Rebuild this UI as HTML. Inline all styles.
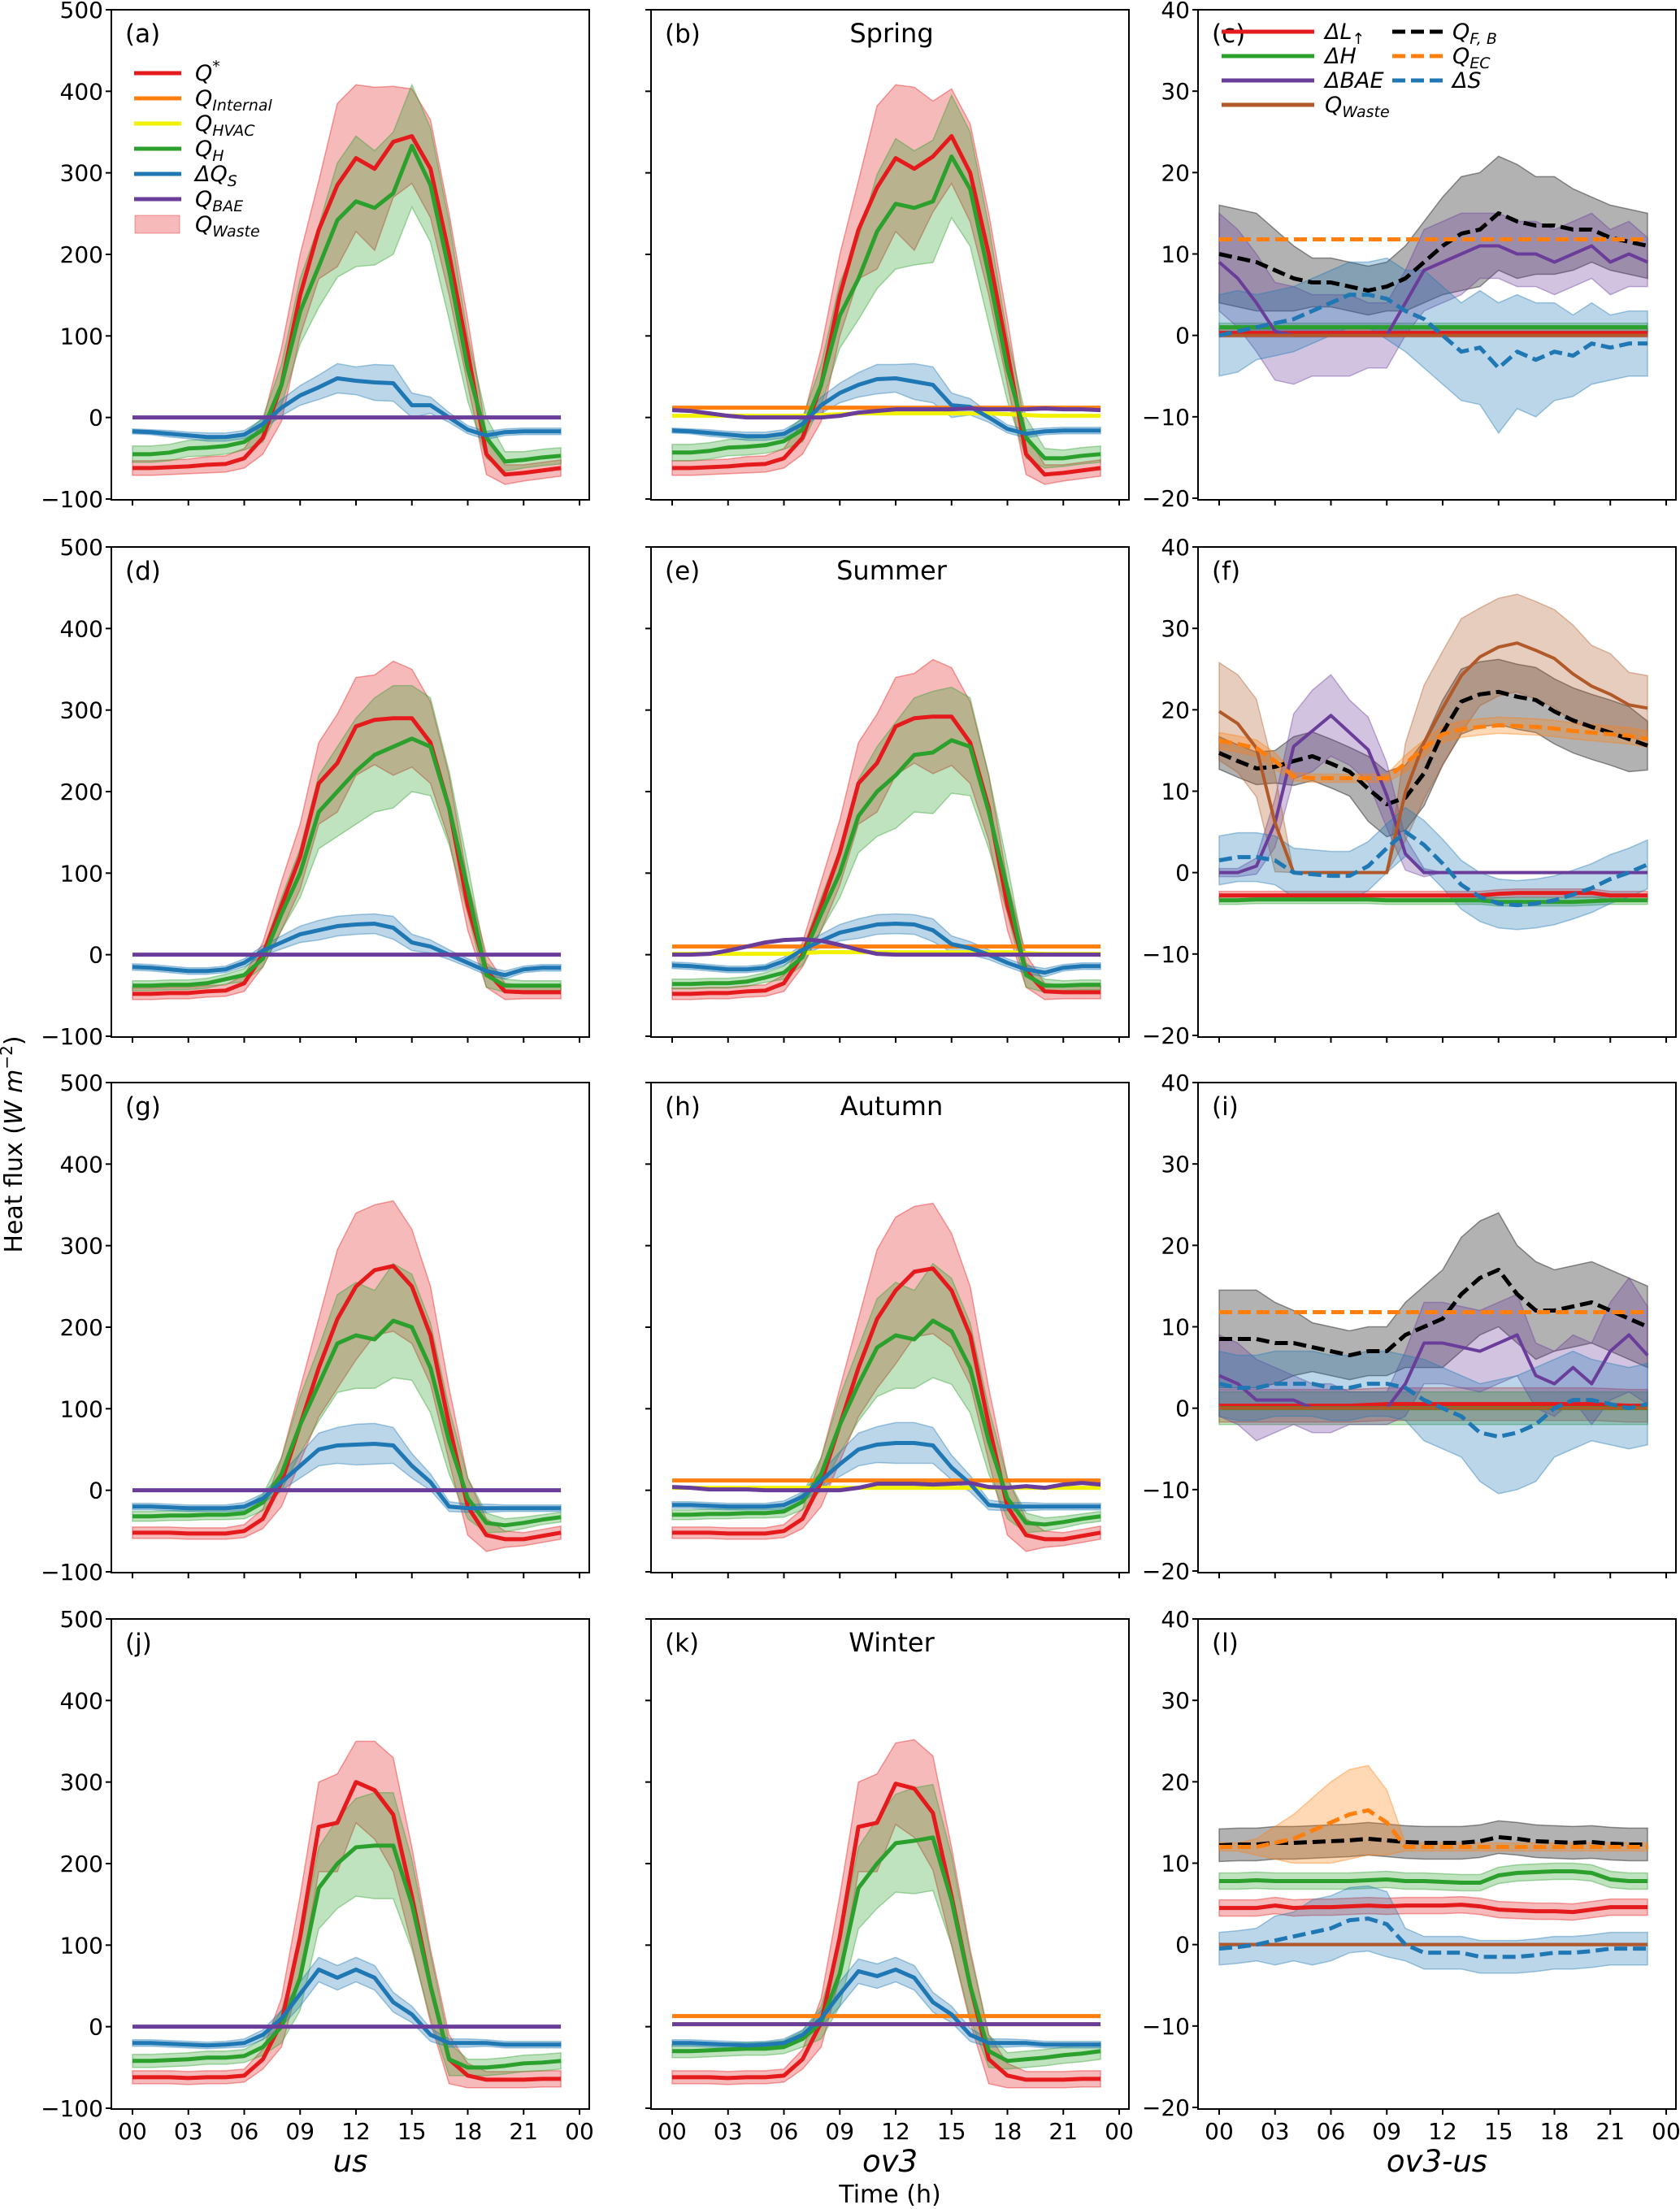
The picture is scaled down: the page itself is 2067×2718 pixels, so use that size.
<!DOCTYPE html>
<html><head><meta charset="utf-8"><style>
body{margin:0;background:#fff}
svg{display:block;font-family:"DejaVu Sans","Liberation Sans",sans-serif}
</style></head><body>
<svg id="fig" width="2067" height="2718" viewBox="0 0 2067 2718" xmlns="http://www.w3.org/2000/svg"></svg>
<script>
// ---------- data (hourly 00..23) ----------
const hours=[0,1,2,3,4,5,6,7,8,9,10,11,12,13,14,15,16,17,18,19,20,21,22,23];
const xTicks=["00","03","06","09","12","15","18","21","00"];
const yTicksMain=[-100,0,100,200,300,400,500];
const yTicksDiff=[-20,-10,0,10,20,30,40];
const seasons=["Spring","Summer","Autumn","Winter"];
const panelLetters=[["(a)","(b)","(c)"],["(d)","(e)","(f)"],["(g)","(h)","(i)"],["(j)","(k)","(l)"]];
const colLabels=["us","ov3","ov3-us"];

// Spring
const spQstar=[-62,-62,-61,-60,-58,-57,-50,-25,40,150,230,285,318,305,338,345,305,200,80,-45,-70,-68,-65,-62];
const spQstarBand=[9,9,9,9,10,10,12,20,45,50,60,100,90,100,68,58,60,50,40,25,12,10,10,10];
const spQH=[-45,-45,-43,-38,-37,-35,-30,-15,40,130,185,242,265,257,275,333,285,180,60,-25,-54,-52,-49,-47];
const spQHBand=[10,10,10,10,10,10,10,15,25,40,50,70,80,70,75,75,70,60,40,25,12,10,10,10];
const spDQs=[-17,-18,-20,-22,-24,-24,-21,-8,12,27,37,48,45,43,42,15,15,0,-15,-22,-18,-17,-17,-17];
const spDQsBand=[3,3,4,4,5,5,5,6,10,12,15,18,17,22,22,15,10,6,5,5,4,4,4,4];
const spQstarOv=[-62,-62,-61,-60,-58,-57,-50,-25,40,150,230,282,318,305,320,345,300,200,80,-45,-70,-68,-65,-62];
const spQHOv=[-43,-43,-41,-37,-36,-34,-29,-15,40,125,170,228,262,257,265,320,280,175,60,-25,-50,-50,-47,-45];
const spDQsOv=[-16,-17,-19,-21,-23,-23,-20,-8,15,30,40,47,48,44,40,15,13,0,-14,-20,-17,-16,-16,-16];
const spQint=[12,12,12,12,12,12,12,12,12,12,12,12,12,12,12,12,12,12,12,12,12,12,12,12];
const spQhvac=[2,2,2,2,2,2,2,2,3,4,5,5,5,5,5,5,5,5,4,3,2,2,2,2];
const spQbae=[9,8,5,2,0,0,0,0,0,2,6,8,10,10,10,10,11,10,10,10,11,10,10,9];

// Summer
const suQstar=[-48,-48,-47,-47,-45,-44,-35,0,60,120,210,235,280,288,290,290,260,180,60,-20,-45,-46,-46,-46];
const suQstarBand=[7,7,7,7,7,7,10,15,30,40,50,60,60,55,70,60,50,40,30,20,10,8,8,8];
const suQH=[-38,-38,-37,-37,-35,-30,-25,-5,50,100,175,200,225,245,255,265,255,180,80,-25,-38,-38,-38,-38];
const suQHBand=[6,6,6,6,6,6,8,10,20,30,45,55,65,70,75,65,60,45,30,15,8,6,6,6];
const suDQs=[-15,-16,-18,-20,-20,-18,-10,5,15,25,30,35,37,38,33,15,10,0,-10,-20,-25,-18,-16,-16];
const suDQsBand=[4,4,4,4,4,4,5,6,8,10,12,12,12,12,14,10,8,6,5,5,5,4,4,4];
const suQstarOv=[-48,-48,-47,-47,-45,-44,-35,0,60,125,210,235,280,290,292,292,260,180,60,-20,-45,-46,-46,-46];
const suQHOv=[-36,-36,-35,-35,-33,-28,-22,-3,50,100,170,200,220,245,248,263,255,175,80,-25,-38,-38,-37,-37];
const suDQsOv=[-13,-14,-16,-18,-18,-16,-8,6,17,27,32,37,38,37,30,13,8,0,-10,-18,-22,-16,-14,-14];
const suQint=[10,10,10,10,10,10,10,10,10,10,10,10,10,10,10,10,10,10,10,10,10,10,10,10];
const suQhvac=[1,1,1,1,1,1,1,2,3,3,3,3,3,3,3,3,3,3,3,2,1,1,1,1];
const suQbae=[0,0,1,5,10,15,18,19,17,12,6,1,0,0,0,0,0,0,0,0,0,0,0,0];

// Autumn
const auQstar=[-52,-52,-52,-53,-53,-53,-50,-35,10,80,150,210,250,270,275,250,190,80,-20,-55,-60,-60,-56,-52];
const auQstarBand=[7,7,7,7,7,7,8,12,30,45,60,85,90,80,80,70,60,45,35,20,10,8,8,8];
const auQH=[-32,-32,-31,-31,-30,-30,-28,-15,20,80,130,180,190,185,208,200,150,60,-10,-40,-43,-40,-36,-33];
const auQHBand=[6,6,6,6,6,6,7,10,20,35,45,60,65,60,70,65,55,40,25,12,8,7,6,6];
const auDQs=[-20,-20,-21,-22,-22,-22,-20,-10,10,30,50,55,56,57,55,30,10,-20,-22,-22,-22,-22,-22,-22];
const auDQsBand=[4,4,4,4,4,4,5,6,10,15,20,22,25,25,22,15,10,6,5,5,4,4,4,4];
const auQstarOv=[-52,-52,-52,-53,-53,-53,-50,-35,10,80,150,210,245,268,272,245,190,80,-20,-55,-60,-60,-56,-52];
const auQHOv=[-30,-30,-29,-29,-28,-28,-26,-14,20,80,130,175,190,185,208,195,150,60,-10,-40,-42,-39,-35,-32];
const auDQsOv=[-18,-18,-19,-20,-20,-20,-18,-8,12,32,50,56,58,58,55,28,8,-18,-20,-20,-20,-20,-20,-20];
const auQint=[12,12,12,12,12,12,12,12,12,12,12,12,12,12,12,12,12,12,12,12,12,12,12,12];
const auQhvac=[3,3,3,3,3,3,3,3,3,3,3,3,3,3,3,3,3,3,3,3,3,3,3,3];
const auQbae=[4,3,1,1,1,0,0,0,0,0,3,8,8,8,7,8,9,4,3,5,3,7,9,7];

// Winter
const wiQstar=[-62,-62,-62,-63,-62,-62,-60,-40,5,110,245,250,300,290,260,160,50,-40,-60,-65,-65,-65,-64,-64];
const wiQstarBand=[8,8,8,8,8,8,8,12,30,50,55,60,50,60,70,60,45,30,15,10,10,10,10,10];
const wiQH=[-42,-42,-41,-40,-38,-38,-36,-25,0,60,170,200,220,222,222,150,50,-40,-50,-50,-48,-45,-44,-42];
const wiQHBand=[8,8,8,8,8,8,8,10,20,40,50,55,60,65,65,55,40,20,10,10,10,10,10,10];
const wiDQs=[-20,-20,-21,-22,-23,-22,-20,-10,10,40,70,60,70,60,30,15,-10,-20,-20,-20,-22,-22,-22,-22];
const wiDQsBand=[4,4,4,4,4,4,5,6,10,15,15,15,15,15,12,10,8,5,5,4,4,4,4,4];
const wiQstarOv=[-62,-62,-62,-63,-62,-62,-60,-40,5,110,245,250,298,292,262,160,50,-40,-60,-65,-65,-65,-64,-64];
const wiQHOv=[-30,-30,-29,-28,-27,-27,-25,-15,5,65,170,200,225,228,232,155,50,-30,-42,-40,-38,-35,-33,-30];
const wiDQsOv=[-20,-20,-21,-22,-23,-22,-20,-10,10,40,68,62,70,60,30,15,-10,-20,-20,-20,-22,-22,-22,-22];
const wiQint=[13,13,13,13,13,13,13,13,13,13,13,13,13,13,13,13,13,13,13,13,13,13,13,13];
const wiQhvac=[3,3,3,3,3,3,3,3,3,3,3,3,3,3,3,3,3,3,3,3,3,3,3,3];
const wiQbae=[3,3,3,3,3,3,3,3,3,3,3,3,3,3,3,3,3,3,3,3,3,3,3,3];

// Differences (ov3-us)
const cDL=[0.3,0.3,0.3,0.3,0.3,0.3,0.3,0.3,0.3,0.3,0.3,0.3,0.3,0.3,0.3,0.3,0.3,0.3,0.3,0.3,0.3,0.3,0.3,0.3];
const cDH=[1,1,1,1,1,1,1,1,1,1,1,1,1,1,1,1,1,1,1,1,1,1,1,1];
const cBAE=[9,7,4,0.5,0,0,0,0,0,0,4,8,9,10,11,11,10,10,9,10,11,9,10,9];
const cWaste=[0,0,0,0,0,0,0,0,0,0,0,0,0,0,0,0,0,0,0,0,0,0,0,0];
const cQFB=[10,9.5,9,8,7,6.5,6.5,6,5.5,6,7,9,11,12.5,13,15,14,13.5,13.5,13,13,12,11.5,11];
const cQEC=[11.8,11.8,11.8,11.8,11.8,11.8,11.8,11.8,11.8,11.8,11.8,11.8,11.8,11.8,11.8,11.8,11.8,11.8,11.8,11.8,11.8,11.8,11.8,11.8];
const cDS=[0,0.5,1,1.5,2,3,4,5,5,4.5,3,2,0,-2,-1.5,-4,-2,-3,-2,-2.5,-1,-1.5,-1,-1];

const fDL=[-2.8,-2.8,-2.8,-2.8,-2.8,-2.8,-2.8,-2.8,-2.8,-2.8,-2.8,-2.8,-2.8,-2.8,-2.8,-2.6,-2.5,-2.5,-2.5,-2.5,-2.5,-2.8,-2.8,-2.8];
const fDH=[-3.4,-3.4,-3.3,-3.3,-3.3,-3.3,-3.3,-3.3,-3.3,-3.4,-3.4,-3.4,-3.4,-3.4,-3.4,-3.6,-3.6,-3.6,-3.6,-3.6,-3.5,-3.4,-3.4,-3.4];
const fBAE=[0,0,0.8,6.1,15.5,17.4,19.3,17.2,15.1,9.5,2.3,0,0,0,0,0,0,0,0,0,0,0,0,0];
const fWaste=[19.8,18.3,15.3,6.1,0,0,0,0,0,0,9.9,16,20.2,24.2,26.5,27.7,28.2,27.3,26.3,24.4,22.9,21.9,20.6,20.2];
const fQFB=[14.7,13.7,12.8,13,13.7,14.3,13.4,12.4,10.3,8.4,9.2,12.2,17.2,21,21.9,22.2,21.6,21.2,19.8,18.7,17.9,17.2,16.4,15.6];
const fQEC=[16.2,15.8,15.3,13.7,11.8,11.6,11.6,11.6,11.6,11.6,13.4,15.3,17,17.6,17.9,18.1,18,17.9,17.7,17.4,17.2,17,16.8,16.4];
const fDS=[1.5,1.9,1.9,1.5,0,-0.2,-0.4,-0.4,0.8,3,5,3.4,1.1,-1.5,-3,-3.8,-4,-3.8,-3.4,-2.7,-1.9,-0.8,0,1];

const iDL=[0.3,0.3,0.3,0.3,0.3,0.3,0.3,0.3,0.4,0.5,0.5,0.5,0.5,0.5,0.5,0.5,0.5,0.5,0.5,0.5,0.5,0.4,0.3,0.3];
const iDH=[0,0,0,0,0,0,0,0,0,0,0,0,0,0,0,0,0,0,0,0,0,0,0,0];
const iBAE=[4,3,1,1,1,0,0,0,0,0,3,8,8,7.5,7,8,9,4,3,5,3,7,9,6.5];
const iWaste=[0,0,0,0,0,0,0,0,0,0,0,0,0,0,0,0,0,0,0,0,0,0,0,0];
const iQFB=[8.5,8.5,8.5,8,8,7.5,7,6.5,7,7,9,10,11,14,16,17,14,12,12,12.5,13,12,11,10];
const iQEC=[11.8,11.8,11.8,11.8,11.8,11.8,11.8,11.8,11.8,11.8,11.8,11.8,11.8,11.8,11.8,11.8,11.8,11.8,11.8,11.8,11.8,11.8,11.8,11.8];
const iDS=[3,2.5,2.5,3,3,3,2.5,2.5,3,3,2.5,1,0,-1,-3,-3.5,-3,-2,0,1,1,0.5,0,0.5];

const lDL=[4.5,4.5,4.5,4.8,4.5,4.6,4.6,4.7,4.8,4.7,4.8,4.8,4.8,4.9,4.7,4.3,4.2,4.1,4.1,4,4.3,4.6,4.6,4.6];
const lDH=[7.8,7.8,7.9,7.8,7.8,7.8,7.8,7.8,7.9,8,7.8,7.8,7.7,7.6,7.6,8.5,8.8,8.9,9,9,8.8,8,7.8,7.8];
const lBAE=[0,0,0,0,0,0,0,0,0,0,0,0,0,0,0,0,0,0,0,0,0,0,0,0];
const lWaste=[0,0,0,0,0,0,0,0,0,0,0,0,0,0,0,0,0,0,0,0,0,0,0,0];
const lQFB=[12.2,12.3,12.3,12.5,12.5,12.6,12.7,12.8,13,12.8,12.6,12.5,12.5,12.5,12.7,13.2,13,12.7,12.6,12.5,12.6,12.4,12.3,12.3];
const lQEC=[12,12,12,12.5,13,14,15,16,16.5,15,12,12,12,12,12,12,12,12,12,12,12,12,12,12];
const lDS=[-0.5,-0.3,0,0.5,1,1.5,2,3,3.2,2.5,0,-1,-1,-1,-1.5,-1.5,-1.5,-1.3,-1,-1,-0.8,-0.5,-0.5,-0.5];

// ---------- drawing ----------
const C={red:"#e41a1c",orange:"#ff7f0e",yellow:"#f2f200",green:"#2ca02c",blue:"#1f77b4",purple:"#6a3d9a",brown:"#b15928",black:"#000"};
const NS="http://www.w3.org/2000/svg";
const svg=document.getElementById("fig");
function mk(tag,attrs,parent){const e=document.createElementNS(NS,tag);for(const k in attrs)e.setAttribute(k,attrs[k]);(parent||svg).appendChild(e);return e;}
const LEFT=[137,801,1474], TOP=[12,673,1332,1992], W=588, H=603;
function xs(col,h){return LEFT[col]+26+h*(550/24);}

function drawPanel(row,col,cfg){
  const g=mk("g",{});
  
  
  const L=LEFT[col],T=TOP[row];
  const [y0,y1]=cfg.ylim;
  const ys=v=>T+H-(v-y0)/(y1-y0)*H;
  const clip=mk("clipPath",{id:"cp"+row+col},g);mk("rect",{x:L,y:T,width:W,height:H},clip);
  const pg=mk("g",{"clip-path":"url(#cp"+row+col+")"},g);
  cfg.series.forEach(s=>{
    if(!s.band)return;
    const up=hours.map((h,i)=>xs(col,h)+","+ys(s.v[i]+s.band[i]));
    const lo=hours.map((h,i)=>xs(col,h)+","+ys(s.v[i]-s.band[i])).reverse();
    const p=mk("polygon",{points:up.concat(lo).join(" "),fill:s.c,"fill-opacity":0.3,stroke:s.c,"stroke-opacity":0.4,"stroke-width":1.5},pg);
    
    
  });
  cfg.series.forEach(s=>{
    const pts=hours.map((h,i)=>xs(col,h)+","+ys(s.v[i])).join(" ");
    const a={points:pts,fill:"none",stroke:s.c,"stroke-width":s.w||5,"stroke-linejoin":"round"};
    if(s.d)a["stroke-dasharray"]="16,7";
    const l=mk("polyline",a,pg);
    
    
  });
  const fr=mk("rect",{x:L,y:T,width:W,height:H,fill:"none",stroke:"#000","stroke-width":2},g);
  
  
  cfg.yticks.forEach(v=>{
    const y=ys(v);
    mk("line",{x1:L-7,x2:L,y1:y,y2:y,stroke:"#000","stroke-width":2},g);
    if(col!==1){const t=mk("text",{x:L-10,y:y+10,"text-anchor":"end","font-size":28},g);t.textContent=(v<0?"\u2212"+(-v):v);
      
      }
  });
  xTicks.forEach((lab,i)=>{
    const x=xs(col,i*3);
    mk("line",{x1:x,x2:x,y1:T+H,y2:T+H+7,stroke:"#000","stroke-width":2},g);
    if(row===3){const t=mk("text",{x:x,y:T+H+37,"text-anchor":"middle","font-size":28},g);t.textContent=lab;
      
      }
  });
  const pl=mk("text",{x:L+17,y:T+40,"font-size":31},g);pl.textContent=panelLetters[row][col];
  
  
  if(col===1){const st=mk("text",{x:L+W/2+2,y:T+40,"text-anchor":"middle","font-size":32},g);st.textContent=seasons[row];
    
    }
}
function mainCfg(qs,qsb,qh,qhb,dq,dqb,extra){
  const s=[];
  if(extra){s.push({n:"q-internal",c:C.orange,v:extra.qi});s.push({n:"q-hvac",c:C.yellow,v:extra.qh});}
  s.push({n:"q-star",c:C.red,v:qs,band:qsb});
  s.push({n:"q-h",c:C.green,v:qh,band:qhb});
  s.push({n:"delta-qs",c:C.blue,v:dq,band:dqb});
  s.push({n:"q-bae",c:C.purple,v:extra?extra.qb:cWaste});
  return {ylim:[-101,500],yticks:yTicksMain,series:s};
}
function diffCfg(dl,dh,bae,waste,qfb,qec,ds,bands){
  return {ylim:[-20.2,40],yticks:yTicksDiff,series:[
    {n:"delta-l-up",c:C.red,v:dl,band:bands.dl},
    {n:"delta-h",c:C.green,v:dh,band:bands.dh},
    {n:"q-fb",c:C.black,v:qfb,band:bands.fb,d:1},
    {n:"delta-bae",c:C.purple,v:bae,band:bands.bae,w:4},
    {n:"q-waste",c:C.brown,v:waste,band:bands.w,w:4},
    {n:"q-ec",c:C.orange,v:qec,band:bands.ec,d:1},
    {n:"delta-s",c:C.blue,v:ds,band:bands.ds,d:1}]};
}
const b05=[0.5,0.5,0.5,0.5,0.5,0.5,0.5,0.5,0.5,0.5,0.5,0.5,0.5,0.5,0.5,0.5,0.5,0.5,0.5,0.5,0.5,0.5,0.5,0.5];
const b1=[1,1,1,1,1,1,1,1,1,1,1,1,1,1,1,1,1,1,1,1,1,1,1,1];
const b2=[2,2,2,2,2,2,2,2,2,2,2,2,2,2,2,2,2,2,2,2,2,2,2,2];
const cFBb=[6,6,6,5,4,3,3,3,3,3,4,5,6,7,7,7,7,6,6,5,4,4,4,4];
const cBAEb=[6,6,6,6,6,5,5,5,4,4,4,5,5,5,4,4,4,4,4,4,4,4,4,3];
const cDSb=[5,5,4,4,4,4,4,4,4,5,5,6,6,6,7,8,7,7,6,5,5,4,4,4];
const fFBb=[2,2,2,2,3,3,3,3,4,4,4,4,4,4,4,4,4,4,4,4,4,4,4,3];
const fBAEb=[0.5,0.5,1,3,4,5,5,4,4,4,2,0.5,0,0,0,0,0,0,0,0,0,0,0,0];
const fWb=[6,6,6,6,0,0,0,0,0,0,6,7,7,7,6,6,6,6,6,6,5,5,4,4];
const fECb=[1,1,1,1,0.5,0.5,0.5,0.5,0.5,0.5,1,1,1,1,1,1,1,1,1,1,1,1,1,1];
const fDSb=[3,3,3,3,3,3,3,3,3,3,3,3,3,3,3,3,3,3,3,3,3,3,3,3];
const iFBb=[6,6,6,5,4,3,3,3,3,3,4,5,6,7,7,7,6,6,5,5,5,5,5,5];
const iBAEb=[5,5,5,4,3,3,3,2,2,2,4,5,5,5,5,5,5,4,4,4,5,6,7,6];
const iDSb=[4,4,4,4,4,4,4,4,4,4,4,5,5,5,6,7,7,7,6,6,5,5,5,5];
const lECb=[0.5,0.5,1,2,3,4,5,5.5,5.5,4,0.5,0.5,0.5,0.5,0.5,0.5,0.5,0.5,0.5,0.5,0.5,0.5,0.5,0.5];
const lDSb=[2,2,2,3,3,4,4,4,4,4,2,2,2,2,2,2,2,2,2,2,2,2,2,2];

drawPanel(0,0,mainCfg(spQstar,spQstarBand,spQH,spQHBand,spDQs,spDQsBand,null));
drawPanel(0,1,mainCfg(spQstarOv,spQstarBand,spQHOv,spQHBand,spDQsOv,spDQsBand,{qi:spQint,qh:spQhvac,qb:spQbae}));
drawPanel(0,2,diffCfg(cDL,cDH,cBAE,cWaste,cQFB,cQEC,cDS,{dl:b05,dh:b05,fb:cFBb,bae:cBAEb,ds:cDSb}));
drawPanel(1,0,mainCfg(suQstar,suQstarBand,suQH,suQHBand,suDQs,suDQsBand,null));
drawPanel(1,1,mainCfg(suQstarOv,suQstarBand,suQHOv,suQHBand,suDQsOv,suDQsBand,{qi:suQint,qh:suQhvac,qb:suQbae}));
drawPanel(1,2,diffCfg(fDL,fDH,fBAE,fWaste,fQFB,fQEC,fDS,{dl:b05,dh:b05,fb:fFBb,bae:fBAEb,w:fWb,ec:fECb,ds:fDSb}));
drawPanel(2,0,mainCfg(auQstar,auQstarBand,auQH,auQHBand,auDQs,auDQsBand,null));
drawPanel(2,1,mainCfg(auQstarOv,auQstarBand,auQHOv,auQHBand,auDQsOv,auDQsBand,{qi:auQint,qh:auQhvac,qb:auQbae}));
drawPanel(2,2,diffCfg(iDL,iDH,iBAE,iWaste,iQFB,iQEC,iDS,{dl:b2,dh:b2,fb:iFBb,bae:iBAEb,ds:iDSb}));
drawPanel(3,0,mainCfg(wiQstar,wiQstarBand,wiQH,wiQHBand,wiDQs,wiDQsBand,null));
drawPanel(3,1,mainCfg(wiQstarOv,wiQstarBand,wiQHOv,wiQHBand,wiDQsOv,wiDQsBand,{qi:wiQint,qh:wiQhvac,qb:wiQbae}));
drawPanel(3,2,diffCfg(lDL,lDH,lBAE,lWaste,lQFB,lQEC,lDS,{dl:b1,dh:b1,fb:b2,ec:lECb,ds:lDSb}));

// legends (subscripts via dy)
function legText(x,y,main,sub,sup,parent){
  const t=mk("text",{x:x,y:y,"font-size":27,"font-style":"italic"},parent);
  t.appendChild(document.createTextNode(main));
  if(sub){const s=mk("tspan",{dy:6,"font-size":19},t);s.textContent=sub;}
  if(sup){const s=mk("tspan",{dy:-11,"font-size":19},t);s.textContent=sup;}
  return t;
}
const legA=[["Q","","*",C.red],["Q","Internal","",C.orange],["Q","HVAC","",C.yellow],["Q","H","",C.green],["\u0394Q","S","",C.blue],["Q","BAE","",C.purple]];
const lgA=mk("g",{});


legA.forEach((e,i)=>{
  const y=TOP[0]+78+i*31;
  mk("line",{x1:165,x2:223,y1:y,y2:y,stroke:e[3],"stroke-width":5},lgA);
  legText(240,y+9,e[0],e[1],e[2],lgA);
});
mk("rect",{x:166,y:TOP[0]+78+6*31-11,width:55,height:22,fill:C.red,"fill-opacity":0.3,stroke:C.red,"stroke-opacity":0.4},lgA);
legText(240,TOP[0]+78+6*31+9,"Q","Waste","",lgA);

const legC1=[["\u0394L","\u2191",C.red],["\u0394H","",C.green],["\u0394BAE","",C.purple],["Q","Waste",C.brown]];
const legC2=[["Q","F, B",C.black],["Q","EC",C.orange],["\u0394S","",C.blue]];
const lgC=mk("g",{});


legC1.forEach((e,i)=>{const y=TOP[0]+27+i*30;mk("line",{x1:1503,x2:1617,y1:y,y2:y,stroke:e[2],"stroke-width":5},lgC);legText(1630,y+9,e[0],e[1],"",lgC);});
legC2.forEach((e,i)=>{const y=TOP[0]+27+i*30;mk("line",{x1:1713,x2:1776,y1:y,y2:y,stroke:e[2],"stroke-width":5,"stroke-dasharray":"16,7"},lgC);legText(1787,y+9,e[0],e[1],"",lgC);});

// axis titles
colLabels.forEach((s,i)=>{const t=mk("text",{x:LEFT[i]+W/2,y:2672,"text-anchor":"middle","font-size":37,"font-style":"italic"});t.textContent=s;
  
  });
const tx=mk("text",{x:LEFT[1]+W/2,y:2710,"text-anchor":"middle","font-size":30});tx.textContent="Time (h)";


const ty=mk("text",{x:0,y:0,"text-anchor":"middle","font-size":30,transform:"translate(27,1408) rotate(-90)"});
ty.appendChild(document.createTextNode("Heat flux ("));
const it=mk("tspan",{"font-style":"italic"},ty);it.textContent="W m";
const sp=mk("tspan",{dy:-12,"font-size":20},ty);sp.textContent="\u22122";
const cl=mk("tspan",{dy:12},ty);cl.textContent=")";


</script>
</body></html>
